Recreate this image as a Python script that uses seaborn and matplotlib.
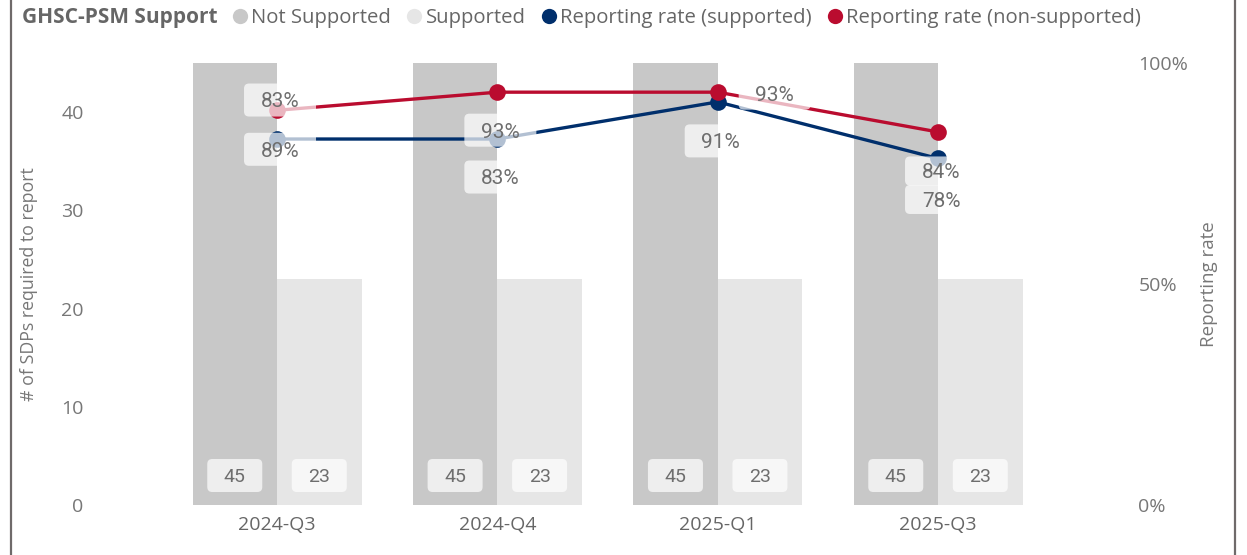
import numpy as np
import pandas as pd
import matplotlib
matplotlib.use("Agg")
import matplotlib.pyplot as plt
import matplotlib.transforms as mtransforms
from matplotlib.patches import FancyBboxPatch
from matplotlib.lines import Line2D
import seaborn as sns

# ---------------- data ----------------
quarters = ["2024-Q3", "2024-Q4", "2025-Q1", "2025-Q3"]
not_supported = [45, 45, 45, 45]
supported = [23, 23, 23, 23]
rate_supported = [0.828, 0.828, 0.912, 0.784]
rate_non_supported = [0.893, 0.934, 0.934, 0.844]
count_ticks = [0, 10, 20, 30, 40]
rate_ticks = [0.0, 0.5, 1.0]
rate_tick_labels = ["0%", "50%", "100%"]
groups = ["Not Supported", "Supported"]

df = pd.DataFrame({
    "Quarter": quarters * 2,
    "Group": [groups[0]] * len(quarters) + [groups[1]] * len(quarters),
    "SDPs": not_supported + supported,
})

# ---------------- style ----------------
C_NOT = "#C8C8C8"
C_SUP = "#E6E6E6"
C_BLUE = "#002F6C"
C_RED = "#BA0C2F"
TXT = "#666666"
TICK = "#777777"

sns.set_theme(style="white")
plt.rcParams["font.family"] = ["Open Sans", "DejaVu Sans"]

W, H = 1247, 555
fig = plt.figure(figsize=(W / 100, H / 100), dpi=100)
ax_left, ax_right, ax_bot, ax_top = 166.85, 1048.2, 505, 63
ax = fig.add_axes([ax_left / W, (H - ax_bot) / H,
                   (ax_right - ax_left) / W, (ax_bot - ax_top) / H])

sns.barplot(data=df, x="Quarter", y="SDPs", hue="Group", order=quarters,
            hue_order=groups, palette={groups[0]: C_NOT, groups[1]: C_SUP},
            width=0.767, gap=0, saturation=1, linewidth=0, legend=False, ax=ax)

ax.set_xlim(-0.5, len(quarters) - 0.5)
ax.set_ylim(0, 45)
ax.set_yticks(count_ticks)
ax.tick_params(axis="y", length=0, pad=60, labelsize=14, labelcolor=TICK)
ax.tick_params(axis="x", length=0, pad=8, labelsize=14, labelcolor=TXT)
ax.set_xlabel("")
ax.set_ylabel("# of SDPs required to report", fontsize=12.8, color=TICK)
ax.yaxis.set_label_coords((29 - ax_left) / (ax_right - ax_left), 0.5)
ax.yaxis.label.set_verticalalignment("center")
for s in ax.spines.values():
    s.set_visible(False)

ax2 = ax.twinx()
x = np.arange(len(quarters))
sns.lineplot(x=x, y=rate_supported, color=C_BLUE, linewidth=2.4, marker="o",
             markersize=12, markeredgewidth=0, ax=ax2, zorder=3)
sns.lineplot(x=x, y=rate_non_supported, color=C_RED, linewidth=2.4, marker="o",
             markersize=12, markeredgewidth=0, ax=ax2, zorder=4)
ax2.set_ylim(0, 1)
ax2.set_yticks(rate_ticks)
ax2.set_yticklabels(rate_tick_labels)
ax2.tick_params(axis="y", length=0, pad=65, labelsize=14, labelcolor=TICK)
ax2.set_ylabel("Reporting rate", fontsize=13.5, color=TICK)
ax2.yaxis.set_label_coords((1209 - ax_left) / (ax_right - ax_left), 0.5)
ax2.yaxis.label.set_verticalalignment("center")
for s in ax2.spines.values():
    s.set_visible(False)
ax2.grid(False)
ax.grid(False)


def label_box(axis, xv, yv, text, dx, dy, w, h, fs, family="Roboto"):
    trans = mtransforms.IdentityTransform() + mtransforms.ScaledTranslation(
        xv, yv, axis.transData)
    box = FancyBboxPatch((dx - w / 2, dy - h / 2), w, h,
                         boxstyle="round,pad=0,rounding_size=5",
                         transform=trans, facecolor="white", alpha=0.7,
                         edgecolor="none", zorder=10, clip_on=False)
    axis.add_artist(box)
    cap = fs * 100 / 72 * 0.711
    axis.annotate(text, xy=(xv, yv), xytext=(dx, dy - cap / 2),
                  textcoords="offset pixels", ha="center", va="baseline",
                  fontsize=fs, family=family, color="#6E6E6E", zorder=11,
                  annotation_clip=False)


# count labels at the bottom of bars
for cont in ax.containers:
    for bar in cont:
        cx = bar.get_x() + bar.get_width() / 2
        label_box(ax2, cx, 0, f"{int(round(bar.get_height()))}", 0, 29.5,
                  55, 33, 14)

# rate labels: (dx, dy, box height) in pixels
sup_off = [(3, 39, 33), (3, -38, 33), (3, -39, 33), (3, -41, 29)]
non_off = [(3, -39, 33), (3, -38, 33), (57, -1, 33), (3, -39, 29)]
for i in range(len(quarters)):
    label_box(ax2, x[i], rate_supported[i], f"{round(rate_supported[i] * 100):.0f}%",
              sup_off[i][0], sup_off[i][1], 72, sup_off[i][2], 15)
    label_box(ax2, x[i], rate_non_supported[i], f"{round(rate_non_supported[i] * 100):.0f}%",
              non_off[i][0], non_off[i][1], 72, non_off[i][2], 15)

# legend
ly = 1 - 18 / H
fig.text(22 / W, ly, "GHSC-PSM Support", fontsize=15, weight="bold",
         color=TXT, va="center", ha="left")
handles = [
    Line2D([], [], marker="o", linestyle="", markersize=11, markeredgewidth=0, color=C_NOT),
    Line2D([], [], marker="o", linestyle="", markersize=11, markeredgewidth=0, color=C_SUP),
    Line2D([], [], marker="o", linestyle="", markersize=11, markeredgewidth=0, color=C_BLUE),
    Line2D([], [], marker="o", linestyle="", markersize=11, markeredgewidth=0, color=C_RED),
]
labels = ["Not Supported", "Supported", "Reporting rate (supported)",
          "Reporting rate (non-supported)"]
fig.legend(handles, labels, loc="center left", bbox_to_anchor=(232 / W, ly),
           ncol=4, frameon=False, handlelength=0.8, handletextpad=0.15,
           columnspacing=0.75, borderpad=0, borderaxespad=0, fontsize=14.6,
           labelcolor=TXT)

# frame lines
for xpx in (11, 1235):
    fig.add_artist(Line2D([xpx / W, xpx / W], [0, 1], transform=fig.transFigure,
                          color="#6f6a6a", linewidth=1.6))

fig.savefig("out.png", dpi=100)
